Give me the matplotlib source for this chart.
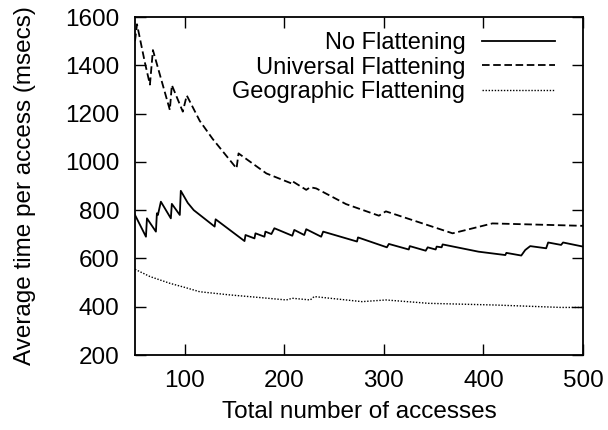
import matplotlib
matplotlib.use("Agg")
import matplotlib.pyplot as plt

# No Flattening (solid)
no_flat_x = [50, 61, 62, 71, 72, 73, 76, 86, 87, 95, 96, 103, 109, 130, 131,
             160, 161, 170, 171, 180, 181, 187, 190, 208, 210, 220, 222, 237, 239,
             273, 274, 303, 305, 325, 326, 342, 344, 352, 353, 358, 359, 395,
             422, 423, 438, 442, 447, 463, 465, 478, 480, 500]
no_flat_y = [780, 690, 766, 711, 787, 780, 835, 766, 826, 780, 880, 830, 800, 732, 762,
             672, 697, 683, 704, 690, 711, 701, 725, 694, 718, 697, 721, 690, 711,
             670, 687, 646, 660, 637, 651, 632, 646, 637, 649, 646, 658, 628,
             614, 623, 612, 635, 651, 642, 666, 656, 666, 649]

# Universal Flattening (dashed)
univ_x = [50, 52, 60, 65, 68, 85, 87, 98, 102, 115, 128, 152, 154, 182, 207, 208,
          222, 226, 232, 262, 295, 302, 369, 409, 500]
univ_y = [1500, 1570, 1410, 1320, 1463, 1215, 1318, 1208, 1275, 1170, 1095, 973, 1035,
          952, 911, 920, 884, 895, 890, 825, 777, 795, 704, 745, 735]

# Geographic Flattening (dotted)
geo_x = [50, 65, 85, 100, 115, 145, 178, 202, 208, 226, 230, 278, 302, 345, 412, 478, 500]
geo_y = [555, 525, 497, 480, 462, 449, 437, 428, 435, 428, 442, 421, 428, 414, 407, 397, 397]

x_ticks = [100, 200, 300, 400, 500]
y_ticks = [200, 400, 600, 800, 1000, 1200, 1400, 1600]

plt.rcParams["font.family"] = ["Liberation Sans", "DejaVu Sans"]
plt.rcParams["font.size"] = 17.5

fig = plt.figure(figsize=(6.08, 4.30), dpi=100)
ax = fig.add_axes([135 / 608, 75 / 430, 448 / 608, 338 / 430])

ax.plot(no_flat_x, no_flat_y, color="black", lw=1.3, linestyle="-", label="No Flattening")
ax.plot(univ_x, univ_y, color="black", lw=1.3, dashes=(4.2, 2), label="Universal Flattening")
ax.plot(geo_x, geo_y, color="black", lw=1.0, linestyle=(0, (1, 1.2)), label="Geographic Flattening")

ax.set_xlim(50, 500)
ax.set_ylim(200, 1600)
ax.set_xticks(x_ticks)
ax.set_yticks(y_ticks)
ax.tick_params(direction="in", length=8, width=1.0, top=True, right=True, pad=11)
for s in ax.spines.values():
    s.set_linewidth(1.3)

ax.set_xlabel("Total number of accesses")
ax.set_ylabel("Average time per access (msecs)")
ax.xaxis.set_label_coords(0.5, -0.135)
ax.yaxis.set_label_coords(-0.222, 0.5)

ax.legend(loc="upper right", bbox_to_anchor=(0.9375, 0.955), frameon=False,
          markerfirst=False, handlelength=3.1, handletextpad=0.7,
          labelspacing=0.1, borderpad=0, borderaxespad=0, fontsize=17)

fig.savefig("out.png", dpi=100)
